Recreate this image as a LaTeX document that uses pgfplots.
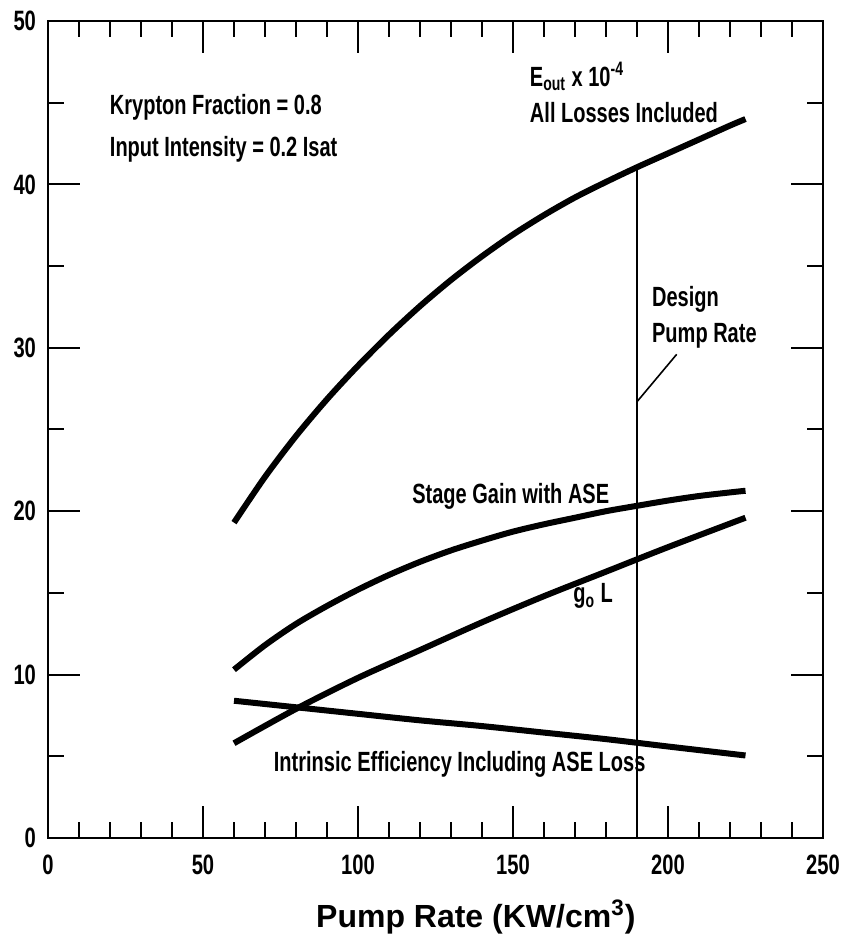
\documentclass[border=0pt]{standalone}
\usepackage{fontspec}
\setmainfont{Liberation Sans}[FakeStretch=0.72]
\newfontfamily\xlabfont{Liberation Sans}
\usepackage{pgfplots}
\usepackage{pgfplotstable}
\pgfplotsset{compat=1.18}
\newcommand\anno{\fontsize{13.9}{16.5}\selectfont\bfseries}

\pgfplotstableread{
x y
60 19.3
70 22.1
80 24.6
90 26.85
100 28.9
110 30.8
120 32.55
130 34.15
140 35.6
150 36.93
160 38.12
170 39.2
180 40.15
190 41.05
200 41.9
210 42.75
220 43.6
225 44.0
}\eout

\pgfplotstableread{
x y
60 10.3
70 11.8
80 13.1
90 14.2
100 15.2
110 16.1
120 16.9
130 17.6
140 18.2
150 18.75
160 19.2
170 19.6
180 20.0
190 20.33
200 20.65
210 20.93
220 21.15
225 21.25
}\stage

\pgfplotstableread{
x y
60 5.8
80 7.9
100 9.8
120 11.5
140 13.2
160 14.8
180 16.3
200 17.8
225 19.6
}\goL

\pgfplotstableread{
x y
60 8.4
80 8.0
100 7.6
120 7.2
140 6.85
160 6.45
180 6.05
200 5.6
225 5.05
}\eff

\begin{document}
\begin{tikzpicture}
\begin{axis}[
  name=ax,
  scale only axis, width=387.5pt, height=408.5pt,
  xmin=0, xmax=250, ymin=0, ymax=50,
  xtick={0,50,...,250}, ytick={0,10,...,50},
  minor x tick num=4, minor y tick num=1,
  tick align=inside,
  major tick length=16pt, minor tick length=8pt,
  tick style={black, line width=1pt},
  axis line style={line width=1.2pt},
  tick label style={font=\fontsize{14}{16}\selectfont\bfseries},
  /pgf/number format/assume math mode=true,
  xticklabel style={yshift=-5pt},
  yticklabel style={xshift=-2.5pt},
  clip=false,
]
\addplot[black, line width=3pt, smooth] table {\eout};
\addplot[black, line width=3pt, smooth] table {\stage};
\addplot[black, line width=3pt, smooth] table {\goL};
\addplot[black, line width=3pt, smooth] table {\eff};
\addplot[black, line width=1pt] coordinates {(190,0) (190,41.05)};
\addplot[black, line width=0.8pt] coordinates {(190,26.7) (202.8,29.6)};

\node[anchor=base west, font=\anno] at (axis cs:17.7,44.25) {Krypton Fraction = 0.8};
\node[anchor=base west, font=\anno] at (axis cs:17.7,41.7) {Input Intensity = 0.2 Isat};
\node[anchor=base west, font=\anno] at (axis cs:153.2,46.0) {E\textsubscript{out} x 10\textsuperscript{-4}};
\node[anchor=base west, font=\anno] at (axis cs:153.2,43.8) {All Losses Included};
\node[anchor=base west, font=\anno] at (axis cs:192.6,32.5) {Design};
\node[anchor=base west, font=\anno] at (axis cs:192.6,30.3) {Pump Rate};
\node[anchor=base east, font=\anno] at (axis cs:183.3,20.5) {Stage Gain with ASE};
\node[anchor=base east, font=\anno] at (axis cs:184.5,14.4) {g\textsubscript{o} L};
\node[anchor=base west, font=\anno] at (axis cs:70.6,4.04) {Intrinsic Efficiency Including ASE Loss};
\node[anchor=base, font=\xlabfont\fontsize{16}{19}\selectfont\bfseries] at (axis cs:138,-5.5) {Pump Rate (KW/cm\textsuperscript{3})};
\end{axis}
\path ([shift={(-24pt,-56.5pt)}]ax.south west) rectangle ([shift={(15pt,10.5pt)}]ax.north east);
\end{tikzpicture}
\end{document}
